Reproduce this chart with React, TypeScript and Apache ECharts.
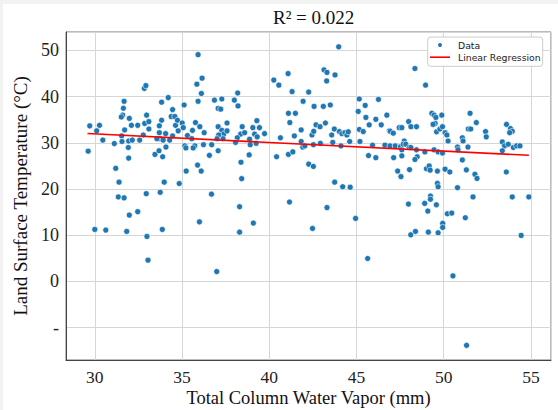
import React, { useEffect, useRef } from "react";
import * as echarts from "echarts";

// Total column water vapor (mm)
const vapor: number[] = [
  29.71, 30.27, 30.11, 30.46, 29.62, 31.2, 31.39, 31.35, 31.68, 31.12, 31.54, 31.56, 31.71, 31.68, 31.64, 31.6,
  31.52, 31.98, 32.1, 31.92, 31.94, 31.94, 32.15, 32.46, 32.57, 32.84, 32.93, 32.86, 32.97, 33.1, 33.1, 32.78,
  32.95, 33.45, 33.68, 33.89, 33.98, 33.75, 33.83, 33.83, 33.7, 33.7, 34.06, 34.08, 33.73, 33.56, 33.92, 34.21,
  34.46, 34.38, 34.59, 34.63, 34.74, 35.01, 35.07, 34.78, 34.46, 34.29, 35.16, 35.22, 35.12, 35.24, 34.84, 35.31,
  35.56, 35.6, 35.73, 35.64, 35.77, 35.92, 35.85, 36.15, 36.11, 35.92, 36.02, 35.89, 36.1, 36.27, 36.23, 36.57,
  36.7, 36.86, 37.07, 37.28, 37.22, 37.07, 37.28, 37.39, 37.35, 37.07, 36.69, 37.1, 37.01,
  37.58, 37.58, 38.0, 38.19, 38.21, 38.45, 38.36, 38.17, 38.07, 38.38, 38.42, 38.59, 38.87, 38.91, 38.85, 39.06,
  39.29, 39.44, 39.16, 39.31, 39.25, 39.73, 40.26, 40.55, 41.08, 41.31, 41.1, 41.5, 41.18, 40.64, 40.42, 41.1,
  41.35, 41.44, 41.83, 41.83, 41.92, 42.04, 41.94, 42.26, 42.57, 42.26, 42.53, 42.45, 42.55, 42.53, 42.68, 42.91,
  43.1, 43.22, 43.14, 43.31, 43.29, 43.5, 42.93, 43.58, 43.73, 43.64, 43.77, 43.98, 44.02, 44.17, 44.11, 44.34,
  44.45, 44.53, 44.61, 43.75, 44.21, 44.64, 45.16, 45.5, 45.1, 45.16, 45.39, 45.2, 45.54, 45.73, 46.11, 46.26,
  46.42, 46.74, 46.89, 45.92, 45.69, 46.11, 46.63,
  46.94, 47.11, 46.92, 47.13, 47.36, 47.55, 47.22, 47.45, 47.6, 47.53, 47.6, 47.6, 47.74, 47.68, 47.83, 47.99,
  48.12, 48.02, 48.12, 48.04, 48.35, 48.44, 48.44, 48.48, 48.35, 48.96, 48.92, 49.01, 49.17, 49.22, 49.24, 49.32,
  49.45, 49.55, 49.89, 49.51, 49.39, 49.59, 49.78, 49.93, 49.45, 49.68, 49.93, 49.64, 49.64, 49.68, 50.08, 50.18,
  50.25, 50.08, 50.35, 50.79, 50.82, 51.07, 51.11, 51.07, 51.3, 50.79, 51.51, 51.41, 51.55, 51.39, 51.87, 52.4,
  52.44, 51.79, 51.91, 51.68, 53.6, 53.83, 53.93, 53.78, 53.36, 53.49, 53.36, 53.7, 53.99, 54.18, 54.37, 53.59,
  53.93, 54.88,
  30.0, 30.63, 31.83, 31.98, 32.46, 32.99, 33.05, 33.87, 36.0, 36.99, 38.3, 38.3, 39.09, 41.16, 42.48, 43.31,
  44.95, 45.64, 47.98, 48.11, 48.38, 48.91, 49.09, 49.24, 49.12, 49.58, 49.68, 49.94, 49.94, 50.21, 50.46, 50.53,
  51.24, 51.31, 54.44,
];

// Land surface temperature (°C)
const lst: number[] = [
  33.68, 33.8, 32.6, 30.6, 28.2, 24.5, 21.5, 18.3, 18.1, 29.85, 31.5, 30.3, 32.8, 39.0, 37.5, 36.0,
  35.6, 35.3, 33.8, 29.0, 26.7, 30.4, 30.6, 33.8, 30.6, 41.8, 42.4, 34.2, 36.0, 34.6, 33.0, 31.7,
  19.0, 27.5, 28.3, 27.0, 21.5, 19.3, 38.8, 34.9, 33.7, 32.2, 32.0, 29.1, 30.9, 30.9, 30.6, 39.8,
  37.2, 35.7, 35.7, 33.8, 34.9, 34.3, 33.3, 32.6, 31.5, 30.6, 29.35, 28.9, 38.2, 23.9, 21.2, 31.6,
  30.9, 32.7, 29.35, 28.9, 34.4, 49.1, 42.7, 44.0, 40.7, 39.0, 33.5, 25.2, 23.9, 32.2, 29.6, 27.3,
  29.6, 39.25, 37.45, 39.5, 37.3, 33.5, 32.7, 31.9, 30.9, 28.3, 18.9, 31.7, 30.9,
  34.3, 32.6, 39.25, 40.8, 38.0, 33.5, 31.9, 31.1, 30.1, 25.8, 22.26, 32.2, 30.8, 29.6, 27.4, 33.3,
  34.8, 33.3, 31.9, 31.3, 29.9, 32.0, 43.6, 42.5, 45.0, 41.1, 36.4, 36.4, 34.4, 31.1, 27.0, 27.5,
  28.05, 31.5, 32.8, 30.3, 29.1, 29.35, 39.0, 41.0, 37.9, 25.4, 24.9, 31.7, 32.5, 29.6, 33.9, 33.5,
  37.9, 34.3, 45.8, 45.25, 43.4, 38.2, 29.9, 31.7, 33.0, 30.1, 44.7, 50.8, 32.45, 32.0, 29.35, 32.2,
  31.7, 32.4, 30.3, 21.5, 20.5, 20.4, 39.5, 38.1, 36.8, 32.9, 32.45, 30.3, 35.5, 33.9, 35.1, 39.4,
  33.9, 36.0, 32.6, 29.5, 27.25, 26.8, 29.5,
  32.5, 32.1, 29.35, 26.8, 23.9, 22.7, 29.35, 33.3, 33.3, 29.2, 28.5, 27.2, 30.4, 29.7, 29.7, 34.6,
  33.5, 29.0, 29.0, 24.2, 46.1, 33.5, 28.5, 27.0, 26.4, 42.5, 28.05, 24.4, 25.0, 24.1, 18.5, 36.4,
  36.0, 35.5, 36.0, 34.2, 34.0, 32.4, 33.0, 33.5, 28.5, 28.05, 27.8, 23.9, 21.25, 20.5, 32.2, 31.7,
  30.4, 24.3, 23.7, 29.1, 28.5, 31.1, 30.4, 26.3, 24.15, 20.3, 36.4, 33.0, 33.0, 29.1, 34.4, 32.45,
  31.3, 23.2, 22.3, 18.3, 34.0, 33.1, 32.5, 32.2, 30.2, 29.35, 28.3, 29.7, 29.0, 29.35, 29.35, 23.7,
  18.3, 18.3,
  11.26, 11.12, 10.83, 14.37, 15.1, 9.74, 4.6, 11.26, 12.9, 2.15, 16.18, 10.68, 12.64, 17.2, 11.48, 16.0,
  13.65, 4.97, 16.76, 10.1, 10.83, 16.9, 15.24, 17.8, 10.68, 16.6, 10.54, 12.57, 11.7, 14.66, 14.8, 1.21,
  13.79, -13.83, 9.96,
];

// Fitted regression line end points
const regX: number[] = [29.58, 54.88];
const regY: number[] = [32.02, 27.32];

const titleText = "R\u00b2 = 0.022";
const xName = "Total Column Water Vapor (mm)";
const yName = "Land Surface Temperature (\u00b0C)";

const SERIF = "'Liberation Serif', 'Times New Roman', serif";

export default function App() {
  const ref = useRef<HTMLDivElement>(null);

  useEffect(() => {
    if (!ref.current) return;
    const chart = echarts.init(ref.current, null, { renderer: "svg" });
    const points = vapor.map((v, i) => [v, lst[i]]);
    const reg = regX.map((v, i) => [v, regY[i]]);
    chart.setOption({
      animation: false,
      backgroundColor: "#ffffff",
      title: {
        text: titleText,
        left: 273,
        top: 8,
        padding: 0,
        textStyle: { fontFamily: SERIF, fontSize: 19, fontWeight: "normal", color: "#111" },
      },
      legend: {
        orient: "vertical",
        left: 427.7,
        top: 37,
        padding: [3.6, 2, 4.6, 2.3],
        itemGap: 3.1,
        itemWidth: 20,
        itemHeight: 6,
        backgroundColor: "#ffffff",
        borderColor: "#cccccc",
        borderWidth: 1,
        borderRadius: 3,
        textStyle: { fontFamily: "'DejaVu Sans', sans-serif", fontSize: 9.3, color: "#222", padding: [0, 0, 0, 3] },
        data: [
          { name: "Data", icon: "circle" },
          { name: "Linear Regression", icon: "path://M0,0H20V1.6H0Z" },
        ],
      },
      grid: {
        left: 66,
        right: 7,
        top: 32,
        bottom: 50,
        show: true,
        borderColor: "#777",
        borderWidth: 1,
        backgroundColor: "transparent",
        containLabel: false,
        outerBoundsMode: "none",
      },
      xAxis: {
        type: "value",
        min: 28.35,
        max: 56.15,
        name: xName,
        nameLocation: "middle",
        nameGap: 29,
        nameMoveOverlap: false,
        nameTextStyle: {
          fontFamily: SERIF,
          fontSize: 18.5,
          color: "#111",
          lineHeight: 18.5,
          verticalAlign: "top",
        },
        axisLine: { show: true, onZero: false, lineStyle: { color: "#444", width: 1 } },
        axisTick: { show: false },
        axisLabel: {
          showMinLabel: false,
          showMaxLabel: false,
          margin: 8,
          lineHeight: 17.5,
          fontFamily: SERIF,
          fontSize: 17.5,
          color: "#222",
        },
        splitLine: { show: true, lineStyle: { color: "#d6d6d6", width: 1 } },
      },
      yAxis: {
        type: "value",
        min: -17,
        max: 54,
        name: yName,
        nameLocation: "middle",
        nameGap: 36,
        nameTextStyle: { fontFamily: SERIF, fontSize: 19, color: "#111" },
        axisLine: { show: true, onZero: false, lineStyle: { color: "#444", width: 1 } },
        axisTick: { show: false },
        axisLabel: {
          showMinLabel: false,
          showMaxLabel: false,
          margin: 7,
          fontFamily: SERIF,
          fontSize: 18,
          color: "#222",
          formatter: (v: number) => (v === -10 ? "-" : String(v)),
        },
        splitLine: { show: true, lineStyle: { color: "#d6d6d6", width: 1 } },
      },
      series: [
        {
          type: "scatter",
          name: "Data",
          data: points,
          symbol: "circle",
          symbolSize: 6,
          itemStyle: { color: "#1f77b4", borderColor: "#ffffff", borderWidth: 0.6, opacity: 1 },
          z: 2,
        },
        {
          type: "line",
          name: "Linear Regression",
          data: reg,
          symbol: "none",
          lineStyle: { color: "#ff0000", width: 1.6 },
          itemStyle: { color: "#ff0000" },
          z: 3,
        },
      ],
      graphic: [
        { type: "rect", left: 0, top: 0, shape: { width: 558, height: 4 }, style: { fill: "#f2f2f2" }, silent: true },
        { type: "rect", left: 0, top: 0, shape: { width: 3, height: 410 }, style: { fill: "#f2f2f2" }, silent: true },
      ],
    });
    return () => chart.dispose();
  }, []);

  return (
    <div
      ref={ref}
      style={{ position: "absolute", left: 0, top: 0, width: 558, height: 410 }}
    />
  );
}
